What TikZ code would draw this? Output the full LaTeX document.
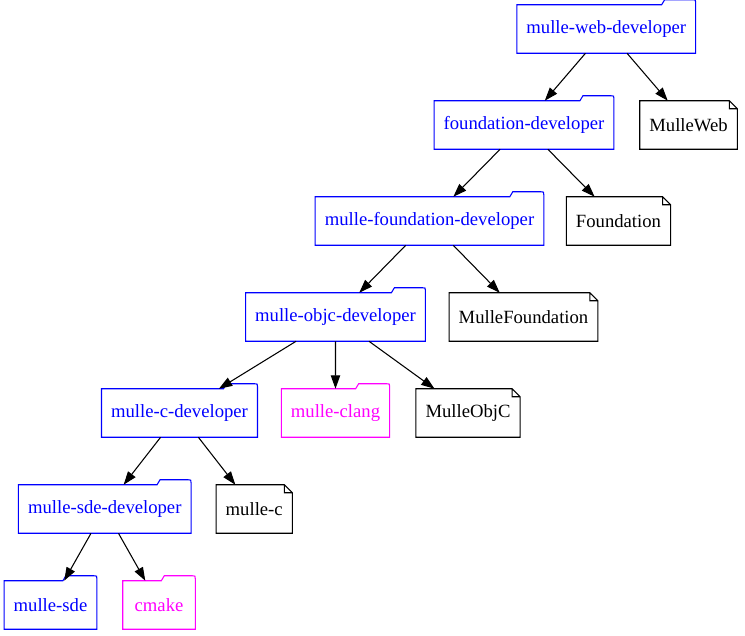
\documentclass[tikz,border=0pt]{standalone}
\usepackage{fontspec}
\setmainfont{Liberation Serif}
\usetikzlibrary{arrows.meta,calc,trees}
\definecolor{pkgblue}{RGB}{0,0,255}
\definecolor{toolpink}{RGB}{255,0,255}
\tikzset{
  >={Triangle[length=10pt,width=7pt]},
  dtree/.style={level distance=72pt,
    level 1/.style={sibling distance=123.4pt},
    level 2/.style={sibling distance=141.75pt},
    level 3/.style={sibling distance=141pt, xshift=0.75pt},
    level 4/.style={sibling distance=108.2pt},
    level 5/.style={sibling distance=112.1pt},
    level 6/.style={sibling distance=81.4pt},
    edge from parent/.style={draw, ->, line width=0.8pt}},
  box/.style ={inner xsep=7pt, minimum width=54pt, minimum height=36pt, font=\fontsize{14}{16}\selectfont},
  pkg/.style ={box, text=#1, append after command={\pgfextra{
      \draw[#1, line width=0.8pt] (\tikzlastnode.south west) -- (\tikzlastnode.north west)
        -- ($(\tikzlastnode.north east)+(-34,0)$) -- ++(3,5)
        -- ($(\tikzlastnode.north east)+(-3,5)$) .. controls ($(\tikzlastnode.north east)+(0,5)$) .. ($(\tikzlastnode.north east)+(0,2)$)
        -- (\tikzlastnode.south east) -- cycle;}}},
  lib/.style ={box, append after command={\pgfextra{
      \draw[line width=0.8pt] (\tikzlastnode.south west) -- (\tikzlastnode.north west)
        -- ($(\tikzlastnode.north east)+(-8,0)$) -- ($(\tikzlastnode.north east)+(0,-8)$)
        -- (\tikzlastnode.south east) -- cycle
        ($(\tikzlastnode.north east)+(-8,0)$) |- ($(\tikzlastnode.north east)+(0,-8)$);}}}
}
\begin{document}
\begin{tikzpicture}[x=0.75pt, y=0.75pt, dtree]
\useasboundingbox (0,0) rectangle (745,-635);
\node[pkg=pkgblue] (web) at (606.25,-29) {mulle-web-developer}
  child { node[pkg=pkgblue] (fdev) {foundation-developer}
    child { node[pkg=pkgblue] (mfdev) {mulle-foundation-developer}
      child { node[pkg=pkgblue] (objc) {mulle-objc-developer}
        child[xshift=-8.8pt] { node[pkg=pkgblue] (cdev) {mulle-c-developer}
          child { node[pkg=pkgblue] (sdedev) {mulle-sde-developer}
            child { node[pkg=pkgblue] (sde) {mulle-sde} }
            child { node[pkg=toolpink] (cmake) {cmake} }
          }
          child { node[lib] (mullec) {mulle-c} }
        }
        child { node[pkg=toolpink] (clang) {mulle-clang} }
        child[xshift=-8.8pt] { node[lib] (objclib) {MulleObjC} }
      }
      child { node[lib] (mflib) {MulleFoundation} }
    }
    child { node[lib] (fnd) {Foundation} }
  }
  child { node[lib] (mweb) {MulleWeb} };
\end{tikzpicture}
\end{document}
